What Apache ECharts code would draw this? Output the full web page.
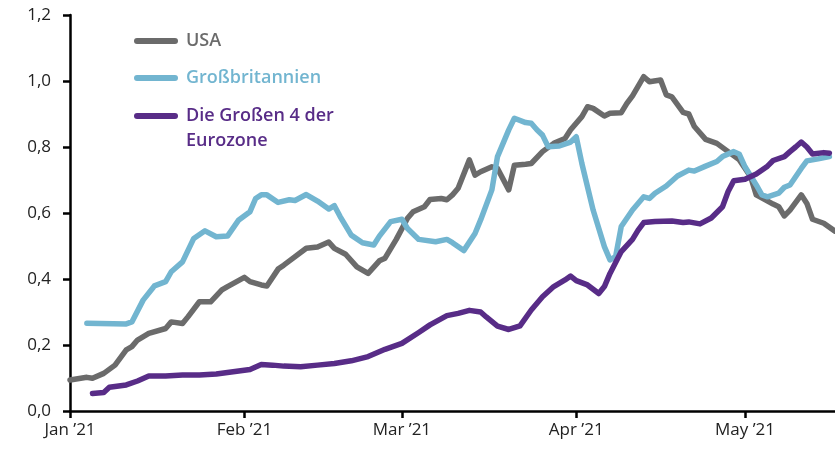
<!DOCTYPE html>
<html>
<head>
<meta charset="utf-8">
<script src="https://cdn.jsdelivr.net/npm/echarts@6/dist/echarts.min.js"></script>
<style>html,body{margin:0;padding:0;background:#fff}#c{width:835px;height:449px}</style>
</head>
<body>
<div id="c"></div>
<script>
// ---- Data ----
const monthLabels = {"01":"Jan ’21","02":"Feb ’21","03":"Mar ’21","04":"Apr ’21","05":"May ’21"};
const yTicks = [0, 0.2, 0.4, 0.6, 0.8, 1.0, 1.2];

const seriesNames = ["USA", "Großbritannien", "Die Großen 4 der\nEurozone"];

const usaDates = ["01-01","01-04","01-05","01-07","01-09","01-11","01-12","01-13","01-15","01-18","01-19","01-21","01-22","01-24","01-26","01-28","01-29",
  "02-01","02-02","02-04","02-05","02-07","02-08","02-12","02-14","02-16","02-17","02-19","02-21","02-23","02-25","02-26","02-28",
  "03-02","03-03","03-05","03-06","03-08","03-09","03-10","03-11","03-13","03-14","03-15","03-17","03-18","03-20","03-21","03-23","03-24","03-26","03-28","03-30","03-31",
  "04-02","04-03","04-04","04-06","04-07","04-09","04-10","04-11","04-13","04-14","04-16","04-17","04-18","04-20","04-21","04-22","04-24","04-26","04-28","04-30",
  "05-02","05-03","05-06","05-07","05-08","05-09","05-11","05-12","05-13","05-15","05-17"];
const usaValues = [0.094,0.102,0.099,0.114,0.139,0.185,0.195,0.215,0.235,0.25,0.27,0.265,0.286,0.331,0.331,0.367,0.377,
  0.405,0.392,0.382,0.379,0.43,0.442,0.493,0.497,0.512,0.493,0.475,0.437,0.417,0.455,0.463,0.52,
  0.584,0.604,0.619,0.641,0.644,0.64,0.655,0.675,0.761,0.715,0.725,0.74,0.735,0.67,0.745,0.748,0.75,0.786,0.811,0.826,0.852,
  0.892,0.922,0.917,0.894,0.902,0.904,0.932,0.955,1.013,0.998,1.003,0.958,0.952,0.905,0.9,0.862,0.823,0.811,0.786,0.761,
  0.71,0.655,0.627,0.619,0.591,0.609,0.655,0.629,0.581,0.569,0.545];

const ukDates = ["01-04","01-11","01-12","01-14","01-16","01-18","01-19","01-21","01-23","01-25","01-27","01-29","01-31",
  "02-02","02-03","02-04","02-05","02-07","02-09","02-10","02-12","02-14","02-16","02-17","02-18","02-20","02-22","02-24","02-25","02-27",
  "03-01","03-02","03-04","03-07","03-09","03-10","03-12","03-14","03-15","03-17","03-18","03-20","03-21","03-23","03-24","03-25","03-26","03-27","03-29","03-31",
  "04-01","04-02","04-04","04-06","04-07","04-08","04-09","04-11","04-13","04-14","04-15","04-17","04-19","04-21","04-22","04-24","04-26","04-27","04-29","04-30",
  "05-01","05-03","05-04","05-05","05-07","05-08","05-09","05-11","05-12","05-14","05-16"];
const ukValues = [0.266,0.264,0.27,0.336,0.379,0.392,0.422,0.452,0.523,0.546,0.528,0.53,0.579,
  0.604,0.644,0.655,0.655,0.632,0.64,0.638,0.656,0.636,0.612,0.622,0.59,0.533,0.51,0.503,0.53,0.574,
  0.581,0.553,0.52,0.513,0.52,0.51,0.486,0.538,0.579,0.67,0.771,0.852,0.887,0.874,0.872,0.852,0.836,0.801,0.803,0.815,
  0.831,0.75,0.609,0.498,0.458,0.468,0.559,0.609,0.649,0.644,0.66,0.682,0.712,0.73,0.727,0.742,0.756,0.771,0.786,0.778,
  0.74,0.685,0.655,0.649,0.66,0.678,0.685,0.735,0.758,0.764,0.771];

const ezDates = ["01-05","01-07","01-08","01-11","01-13","01-15","01-18","01-21","01-24","01-27","01-30",
  "02-02","02-04","02-06","02-08","02-11","02-14","02-17","02-20","02-23","02-26",
  "03-01","03-04","03-06","03-09","03-11","03-13","03-15","03-16","03-18","03-20","03-22","03-24","03-26","03-28","03-30","03-31",
  "04-01","04-03","04-05","04-06","04-07","04-09","04-11","04-12","04-13","04-15","04-18","04-20","04-21","04-23","04-25","04-27","04-28","04-29",
  "05-01","05-03","05-05","05-06","05-08","05-09","05-10","05-11","05-12","05-13","05-15","05-16"];
const ezValues = [0.053,0.056,0.072,0.079,0.091,0.106,0.106,0.109,0.109,0.112,0.119,
  0.126,0.141,0.139,0.136,0.134,0.139,0.144,0.152,0.165,0.187,
  0.205,0.238,0.261,0.289,0.296,0.305,0.3,0.285,0.257,0.247,0.258,0.306,0.346,0.377,0.397,0.409,
  0.395,0.382,0.356,0.377,0.417,0.483,0.52,0.548,0.571,0.574,0.576,0.571,0.573,0.567,0.585,0.619,0.665,0.698,
  0.702,0.718,0.742,0.759,0.771,0.786,0.8,0.815,0.8,0.779,0.783,0.781];

const colors = ["#6b6b6b", "#72b5d0", "#582c87"];

// ---- Build category axis (every day Jan 1 – May 17 2021) ----
const categories = [];
for (let d = new Date(Date.UTC(2021,0,1)); d <= new Date(Date.UTC(2021,4,17)); d.setUTCDate(d.getUTCDate()+1)) {
  categories.push(d.toISOString().slice(5,10));
}
function toSeries(dates, values) {
  const m = {};
  dates.forEach((d,i) => m[d] = values[i]);
  return categories.map(c => (c in m) ? m[c] : null);
}
const isMonthStart = (idx, val) => val.slice(3) === "01";

const FONT = "'Open Sans', sans-serif";
const chart = echarts.init(document.getElementById('c'), null, {renderer: 'canvas'});

const legendY = [41, 78, 116];
const graphics = [];
seriesNames.forEach((n, i) => {
  graphics.push({type:'line', shape:{x1:137, y1:legendY[i], x2:175, y2:legendY[i]},
    style:{stroke:colors[i], lineWidth:6, lineCap:'round'}});
  graphics.push({type:'text', x:186, y:legendY[i] - 12.5,
    style:{text:n, fill:colors[i], font:"600 18px " + FONT, lineHeight:25, verticalAlign:'top'}});
});

chart.setOption({
  animation: false,
  grid: {left: 70, right: 0, top: 15, bottom: 38, containLabel: false},
  xAxis: {
    type: 'category', data: categories, boundaryGap: false,
    axisLine: {lineStyle: {color: '#000', width: 2.5}},
    axisTick: {show: true, interval: isMonthStart, length: 7, lineStyle: {color:'#000', width: 2.5}},
    axisLabel: {interval: isMonthStart, formatter: v => monthLabels[v.slice(0,2)],
      color: '#222', fontFamily: FONT, fontSize: 17, margin: 11, hideOverlap: false},
    splitLine: {show: false}
  },
  yAxis: {
    type: 'value', min: yTicks[0], max: yTicks[yTicks.length-1], interval: 0.2,
    axisLine: {show: true, lineStyle: {color: '#000', width: 2.5}},
    axisTick: {show: true, length: 7, lineStyle: {color:'#000', width: 2.5}},
    axisLabel: {formatter: v => v.toFixed(1).replace('.', ','), color: '#222', fontFamily: FONT, fontSize: 17, margin: 19},
    splitLine: {show: false}
  },
  graphic: graphics,
  series: [
    {name: seriesNames[0], type: 'line', data: toSeries(usaDates, usaValues)},
    {name: seriesNames[1], type: 'line', data: toSeries(ukDates, ukValues)},
    {name: seriesNames[2], type: 'line', data: toSeries(ezDates, ezValues)}
  ].map((s, i) => Object.assign(s, {
    showSymbol: false, symbol: 'none', connectNulls: true, clip: false,
    lineStyle: {color: colors[i], width: 5.5, join: 'round', cap: 'round'},
    itemStyle: {color: colors[i]}
  }))
});
</script>
</body>
</html>
